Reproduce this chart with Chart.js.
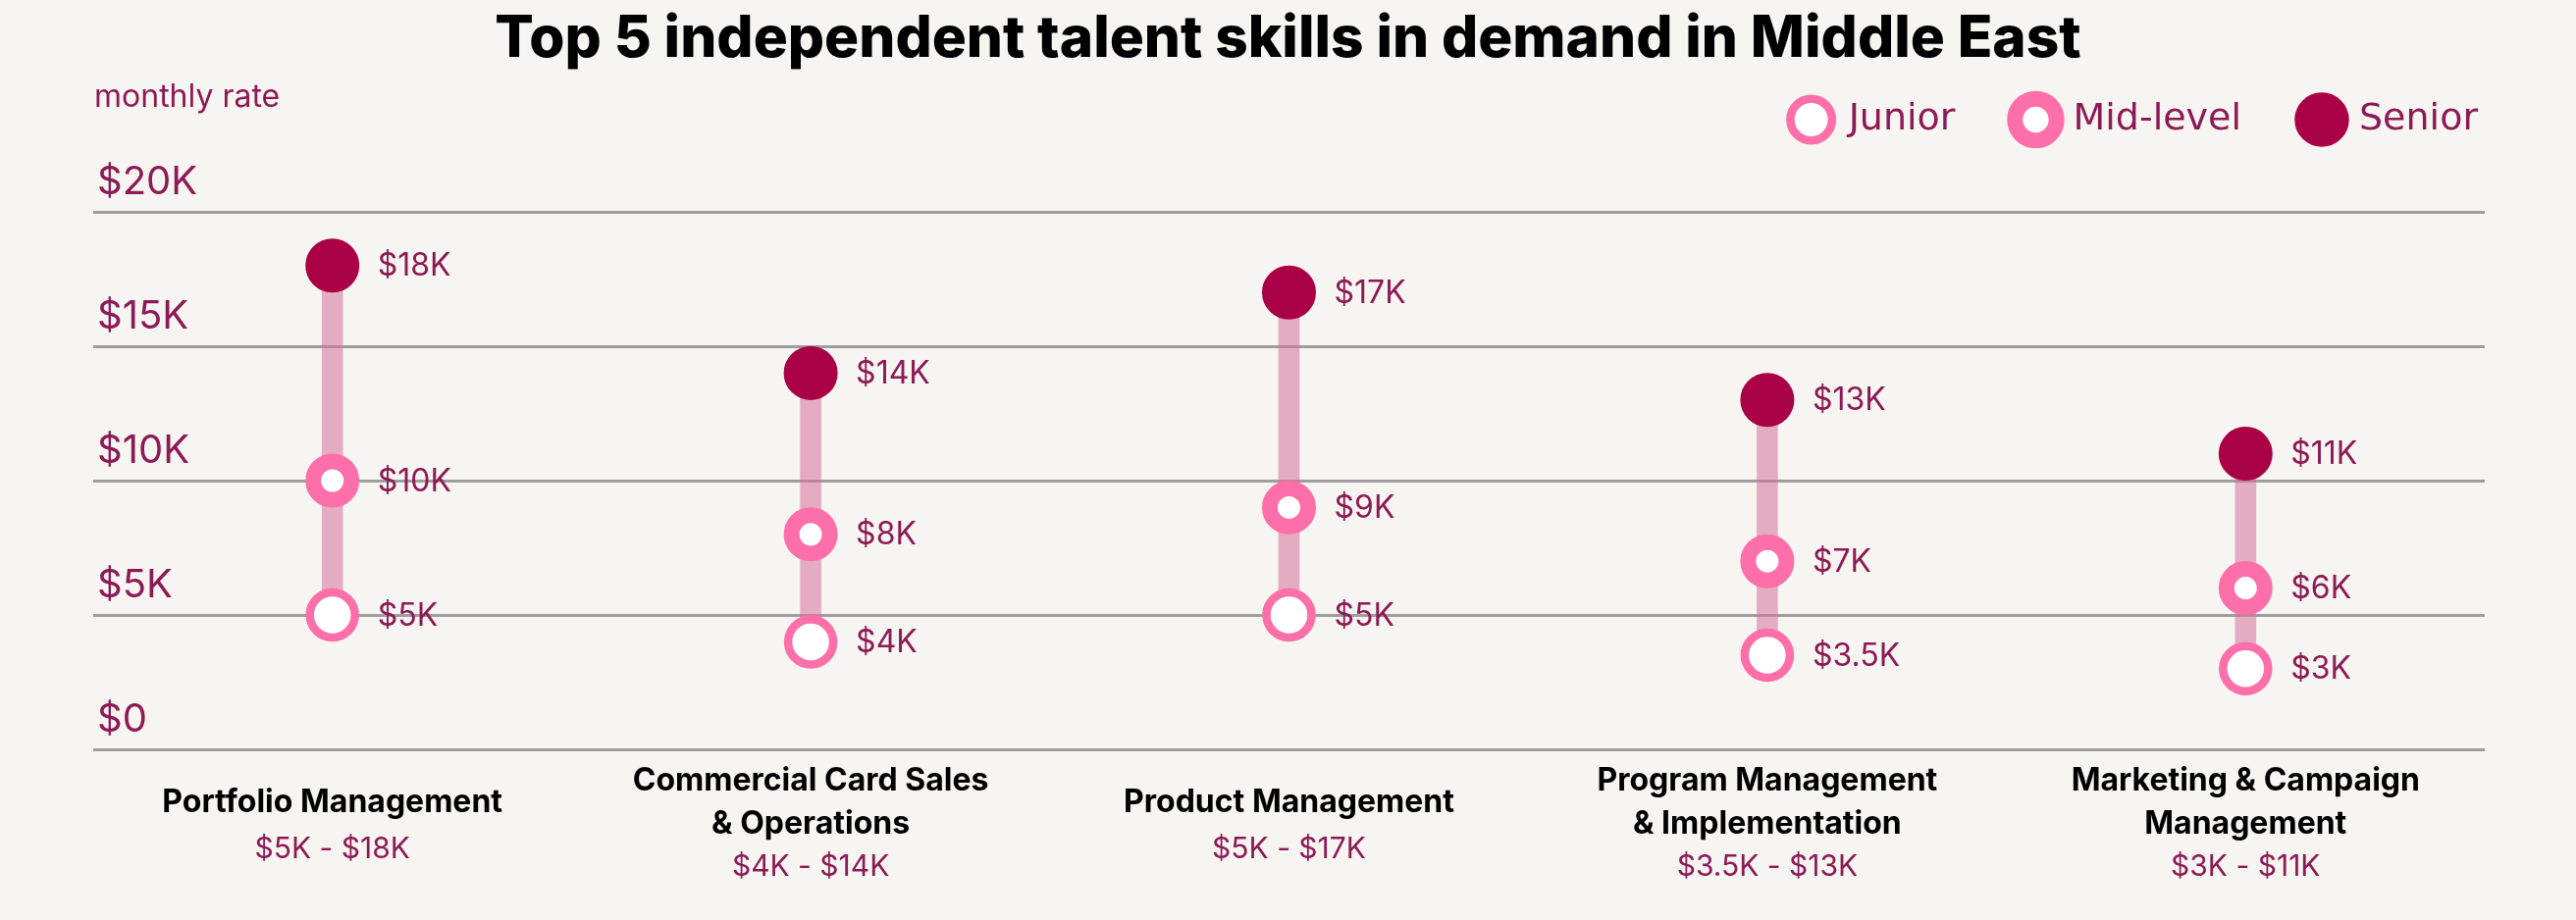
<!DOCTYPE html>
<html>
<head>
<meta charset="utf-8">
<script src="https://cdn.jsdelivr.net/npm/chart.js@4.4.0/dist/chart.umd.min.js"></script>
<style>
  html, body { margin: 0; padding: 0; background: #F7F5F2; }
  #wrap { width: 2625px; height: 938px; position: relative; }
</style>
</head>
<body>
<div id="wrap"><canvas id="c"></canvas></div>
<script>
// ---- data ----
const categories = [
  ['Portfolio Management'],
  ['Commercial Card Sales', '& Operations'],
  ['Product Management'],
  ['Program Management', '& Implementation'],
  ['Marketing & Campaign', 'Management']
];
const juniorRates = [5, 4, 5, 3.5, 3];
const midRates    = [10, 8, 9, 7, 6];
const seniorRates = [18, 14, 17, 13, 11];
const yTickLabels = ['$0', '$5K', '$10K', '$15K', '$20K'];
const seriesNames = ['Junior', 'Mid-level', 'Senior'];
const chartTitle = 'Top 5 independent talent skills in demand in Middle East';
const axisNote = 'monthly rate';

// ---- styles ----
const INK = '#8C1A55';
const PINK = '#FD6FA8';
const CRIMSON = '#A90046';
const fmtK = v => '$' + v + 'K';

const textPlugin = {
  id: 'textPlugin',
  afterDatasetsDraw(chart) {
    const ctx = chart.ctx;
    ctx.save();
    ctx.font = '32px Inter';
    ctx.fillStyle = INK;
    ctx.textAlign = 'left';
    ctx.textBaseline = 'middle';
    chart.data.datasets.forEach((ds, di) => {
      if (ds.type !== 'line') return;
      const meta = chart.getDatasetMeta(di);
      meta.data.forEach((el, i) => {
        ctx.fillText(fmtK(ds.data[i]), el.x + 46, el.y + 1);
      });
    });
    ctx.restore();
  },
  afterDraw(chart) {
    const ctx = chart.ctx;
    const area = chart.chartArea;
    ctx.save();
    // axis note
    ctx.font = '32px Inter';
    ctx.fillStyle = INK;
    ctx.textAlign = 'left';
    ctx.textBaseline = 'alphabetic';
    ctx.fillText(axisNote, area.left + 1, area.top - 107);
    // range labels under the category names
    const scale = chart.scales.x;
    const items = scale.getLabelItems();
    ctx.font = '30px Inter';
    ctx.textAlign = 'center';
    ctx.textBaseline = 'middle';
    items.forEach((it, i) => {
      const lines = Array.isArray(it.label) ? it.label.length : 1;
      const lh = it.font.lineHeight;
      const lastMid = it.options.translation[1] + it.textOffset + (lines - 1) * lh;
      const gap = lines > 1 ? 44 : 48;
      ctx.fillText(fmtK(juniorRates[i]) + ' - ' + fmtK(seniorRates[i]), it.options.translation[0], lastMid + gap);
    });
    ctx.restore();
  }
};

new Chart(document.getElementById('c'), {
  data: {
    labels: categories,
    datasets: [
      {
        type: 'line', label: seriesNames[0], data: juniorRates, order: 1, showLine: false,
        pointStyle: 'circle', pointRadius: 23, pointHoverRadius: 23, pointBorderWidth: 8.5,
        pointBackgroundColor: '#FFFFFF', pointBorderColor: PINK,
        backgroundColor: '#FFFFFF', borderColor: PINK
      },
      {
        type: 'line', label: seriesNames[1], data: midRates, order: 2, showLine: false,
        pointStyle: 'circle', pointRadius: 19.5, pointHoverRadius: 19.5, pointBorderWidth: 16,
        pointBackgroundColor: '#FFFFFF', pointBorderColor: PINK,
        backgroundColor: '#FFFFFF', borderColor: PINK
      },
      {
        type: 'line', label: seriesNames[2], data: seniorRates, order: 3, showLine: false,
        pointStyle: 'circle', pointRadius: 21, pointHoverRadius: 21, pointBorderWidth: 13,
        pointBackgroundColor: CRIMSON, pointBorderColor: CRIMSON,
        backgroundColor: CRIMSON, borderColor: CRIMSON
      },
      {
        type: 'bar', label: 'range', order: 10,
        data: juniorRates.map((j, i) => [j, seniorRates[i]]),
        backgroundColor: 'rgba(214,112,156,0.55)', borderWidth: 0,
        barThickness: 21
      }
    ]
  },
  options: {
    responsive: true,
    maintainAspectRatio: false,
    devicePixelRatio: 1,
    animation: false,
    layout: { padding: { left: 37, right: 37, top: 0, bottom: 0 } },
    plugins: {
      tooltip: { enabled: false },
      title: {
        display: true, text: chartTitle, color: '#000000',
        font: { family: 'Inter', size: 58.5, weight: '800', lineHeight: 1.2 },
        padding: { top: 5, bottom: -35.2 }
      },
      legend: {
        display: true, position: 'top', align: 'end',
        labels: {
          usePointStyle: true, boxHeight: 30, padding: 63,
          color: INK, font: { family: 'DejaVu Sans', size: 38 },
          filter: item => item.text !== 'range'
        }
      }
    },
    scales: {
      x: {
        type: 'category', position: 'bottom',
        grid: { display: false, drawTicks: false },
        border: { display: false },
        ticks: {
          color: '#000000', padding: 32, crossAlign: 'center', maxRotation: 0, autoSkip: false,
          font: { family: 'Inter', size: 32, weight: '700', lineHeight: 1.375 }
        },
        afterFit: s => { s.height = 174; }
      },
      xTop: {
        type: 'linear', position: 'top', axis: 'x',
        grid: { display: false, drawTicks: false }, border: { display: false },
        ticks: { display: false },
        afterFit: s => { s.height = 65; }
      },
      y: {
        type: 'linear', position: 'left', min: 0, max: 20,
        grid: { color: '#9E9E9E', lineWidth: 3, drawTicks: false },
        border: { display: false },
        ticks: {
          stepSize: 5, mirror: true, padding: 4, labelOffset: -30, color: INK,
          font: { family: 'Inter', size: 40 },
          callback: (v, i) => yTickLabels[i]
        },
        afterFit: s => { s.width = 58; }
      },
      yRight: {
        type: 'linear', position: 'right',
        grid: { display: false, drawTicks: false }, border: { display: false },
        ticks: { display: false },
        afterFit: s => { s.width = 56; }
      }
    }
  },
  plugins: [textPlugin]
});
</script>
</body>
</html>
